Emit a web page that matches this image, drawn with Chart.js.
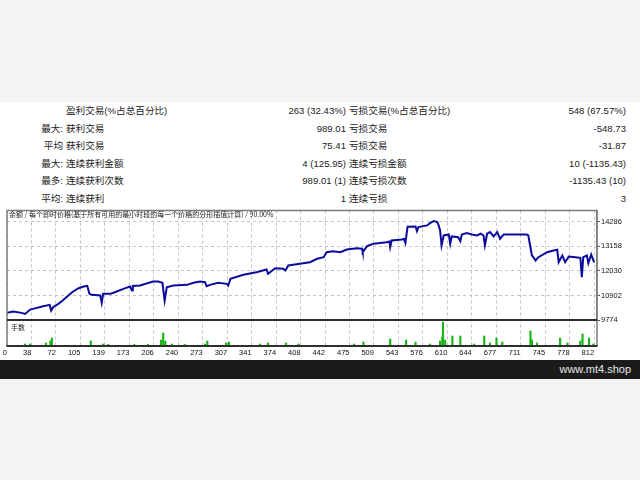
<!DOCTYPE html>
<html>
<head>
<meta charset="utf-8">
<script src="https://cdn.jsdelivr.net/npm/chart.js@4/dist/chart.umd.min.js"></script>
<style>
  body { margin: 0; width: 640px; height: 480px; background: #f1f3f5; position: relative; overflow: hidden;
         font-family: "Liberation Sans", "Noto Sans CJK SC", sans-serif; }
  #sheet { position: absolute; left: 0; top: 102px; width: 640px; height: 258px; background: #fff; }
  .row { position: absolute; left: 0; width: 640px; height: 17px; line-height: 17px; font-size: 9.6px; color: #222; }
  .row span { position: absolute; white-space: nowrap; }
  .c1 { left: 0; width: 63px; text-align: right; }
  .c2 { left: 66px; }
  .c3 { right: 294px; text-align: right; }
  .c4 { left: 349px; }
  .c5 { right: 14px; text-align: right; }
  #wrap { position: absolute; left: 0; top: 205px; width: 640px; height: 155px; }
  #title { position: absolute; left: 9px; top: 210px; font: 7px "Noto Sans CJK SC", sans-serif; color: #222; line-height: 9px; }
  #lotsLabel { position: absolute; left: 11px; top: 323px; font: 7px "Noto Sans CJK SC", sans-serif; color: #222; line-height: 9px; }
  #footer { position: absolute; left: 0; top: 360px; width: 640px; height: 19px; background: #1b1b1b; color: #e8e8e8;
            font: 11px "Liberation Sans", sans-serif; line-height: 19px; text-align: right; }
  #footer span { margin-right: 9px; }
</style>
</head>
<body>
<div id="sheet"></div>
<div id="table"></div>
<div id="wrap"><canvas id="balanceChart" width="640" height="155"></canvas></div>
<div id="title">余额 / 每个即时价格(基于所有可用的最小时段的每一个价格的分形插值计算) / 90.00%</div>
<div id="lotsLabel">手数</div>
<div id="footer"><span>www.mt4.shop</span></div>
<script>
// report rows: prefix, label, value, label, value
const statRows = [
    ['', '盈利交易(%占总百分比)', '263 (32.43%)', '亏损交易(%占总百分比)', '548 (67.57%)'],
    ['最大:', '获利交易', '989.01', '亏损交易', '-548.73'],
    ['平均', '获利交易', '75.41', '亏损交易', '-31.87'],
    ['最大:', '连续获利金额', '4 (125.95)', '连续亏损金额', '10 (-1135.43)'],
    ['最多:', '连续获利次数', '989.01 (1)', '连续亏损次数', '-1135.43 (10)'],
    ['平均:', '连续获利', '1', '连续亏损', '3']
];

// balance curve (trade number -> balance)
const tradeIdx = [0,9,20,25,32,36,50,59,61,64,71,77,90,99,106,111,114,117,129,131,133,143,149,161,170,173,174,184,202,209,215,218,221,230,249,258,267,274,276,281,292,304,306,309,327,345,359,361,371,382,385,389,405,419,429,438,442,451,461,470,484,491,492,498,507,525,529,530,532,546,549,551,554,565,567,569,581,585,590,595,597,599,601,604,611,613,615,624,627,629,636,643,650,655,659,661,664,668,673,678,682,687,701,719,721,726,728,731,735,747,756,761,763,768,772,777,786,793,795,797,802,804,808,812];
const balance = [10104,10164,10104,10058,10255,10288,10407,10471,10210,10379,10517,10668,11049,11232,11310,11342,10975,10929,10897,10563,10975,10975,11049,11205,11310,11127,11333,11356,11539,11539,11480,10668,11278,11356,11388,11480,11539,11507,11324,11388,11480,11434,11356,11663,11846,11966,12089,11892,12149,12121,12043,12273,12351,12424,12580,12653,12883,12928,12883,13006,13066,13038,12883,13158,13268,13341,13373,13112,13419,13465,13488,13304,14047,14061,13845,14029,14107,14212,14304,14258,14107,13878,13190,13648,13694,13268,13602,13570,13387,13694,13754,13694,13648,13726,13648,13190,13726,13800,13602,13800,13497,13694,13694,13694,13648,12731,12653,12502,12653,12883,12961,12993,12424,12731,12424,12685,12653,12626,11736,12653,12731,12378,12777,12410];

// lots panel
const lotIdx = [25,32,54,60,62,116,133,140,176,195,213,216,219,228,246,274,277,303,307,350,361,386,403,480,493,530,552,565,585,599,602,603,606,616,627,646,660,668,677,685,724,726,733,765,775,793,796,805,811];
const lots = [0.1,0.1,0.15,0.25,0.4,0.25,0.1,0.08,0.08,0.08,0.3,0.65,0.25,0.1,0.08,0.1,0.25,0.15,0.2,0.1,0.15,0.15,0.1,0.1,0.2,0.35,0.3,0.2,0.1,0.25,0.45,1.2,0.3,0.5,0.5,0.1,0.5,0.15,0.4,0.2,0.75,0.3,0.15,0.4,0.15,0.25,0.6,0.4,0.1];

// axis labels
const xTickLabels = ['0','38','72','105','139','173','206','240','273','307','341','374','408','442','475','509','543','576','610','644','677','711','745','778','812'];
const yTickValues = [9774, 10902, 12030, 13158, 14286];

// build the stats block
const table = document.getElementById('table');
statRows.forEach((r, i) => {
    const row = document.createElement('div');
    row.className = 'row';
    row.style.top = (102 + i * 17.5) + 'px';
    row.innerHTML = r.map((t, j) => `<span class="c${j + 1}">${t}</span>`).join('');
    table.appendChild(row);
});

const axisFont = { family: '"Liberation Sans", sans-serif', size: 7.5 };
const xStep = 812 / (xTickLabels.length - 1);

// frame around the two panels
const framePlugin = {
    id: 'frame',
    afterDraw(chart) {
        const { ctx, chartArea: a, scales } = chart;
        ctx.save();
        ctx.strokeStyle = '#7c7c7c';
        ctx.lineWidth = 1.5;
        ctx.strokeRect(a.left, a.top, a.right - a.left, a.bottom - a.top);
        ctx.strokeStyle = '#2e2e2e';
        ctx.lineWidth = 2;
        ctx.beginPath();
        ctx.moveTo(a.left, scales.y.bottom);
        ctx.lineTo(a.right, scales.y.bottom);
        ctx.moveTo(a.left, a.bottom);
        ctx.lineTo(a.right, a.bottom);
        ctx.stroke();
        ctx.restore();
    }
};

new Chart(document.getElementById('balanceChart').getContext('2d'), {
    data: {
        datasets: [{
            type: 'line',
            data: tradeIdx.map((t, i) => ({ x: t, y: balance[i] })),
            borderColor: '#0c0c9c',
            borderWidth: 2,
            pointRadius: 0,
            tension: 0,
            xAxisID: 'x',
            yAxisID: 'y'
        }, {
            type: 'bar',
            data: lotIdx.map((t, i) => ({ x: t, y: lots[i] })),
            backgroundColor: '#18b418',
            barThickness: 1.5,
            xAxisID: 'x',
            yAxisID: 'y2'
        }]
    },
    options: {
        responsive: false,
        animation: false,
        layout: { padding: { left: 7, top: 5, right: 0, bottom: 0 } },
        plugins: { legend: { display: false }, tooltip: { enabled: false } },
        scales: {
            x: {
                type: 'linear',
                offset: false,
                min: 0,
                max: 816,
                afterBuildTicks: s => { s.ticks = xTickLabels.map((_, i) => ({ value: i * xStep })); },
                afterFit: s => { s.height = 14; },
                ticks: {
                    color: '#111',
                    font: axisFont,
                    align: 'end',
                    padding: 2,
                    maxRotation: 0,
                    autoSkip: false,
                    callback: (v, i) => xTickLabels[i]
                },
                grid: { color: '#c4c4c4', lineWidth: 1, drawTicks: false, offset: false },
                border: { color: '#2e2e2e', width: 1.5, dash: [3, 3] }
            },
            y: {
                type: 'linear',
                position: 'right',
                stack: 'panels',
                stackWeight: 110,
                min: 9774,
                max: 14790,
                afterBuildTicks: s => { s.ticks = yTickValues.map(v => ({ value: v })); },
                afterFit: s => { s.width = 43; },
                ticks: { color: '#111', font: axisFont, padding: 1, callback: v => String(v) },
                grid: { color: '#c4c4c4', lineWidth: 1, tickLength: 3, tickColor: '#555', tickBorderDash: [] },
                border: { color: '#7c7c7c', width: 1.5, dash: [3, 3] }
            },
            y2: {
                type: 'linear',
                position: 'right',
                stack: 'panels',
                stackWeight: 26,
                min: 0,
                max: 1.3,
                afterFit: s => { s.width = 43; },
                ticks: { display: false },
                grid: { display: false },
                border: { display: false }
            }
        }
    },
    plugins: [framePlugin]
});
</script>
</body>
</html>
